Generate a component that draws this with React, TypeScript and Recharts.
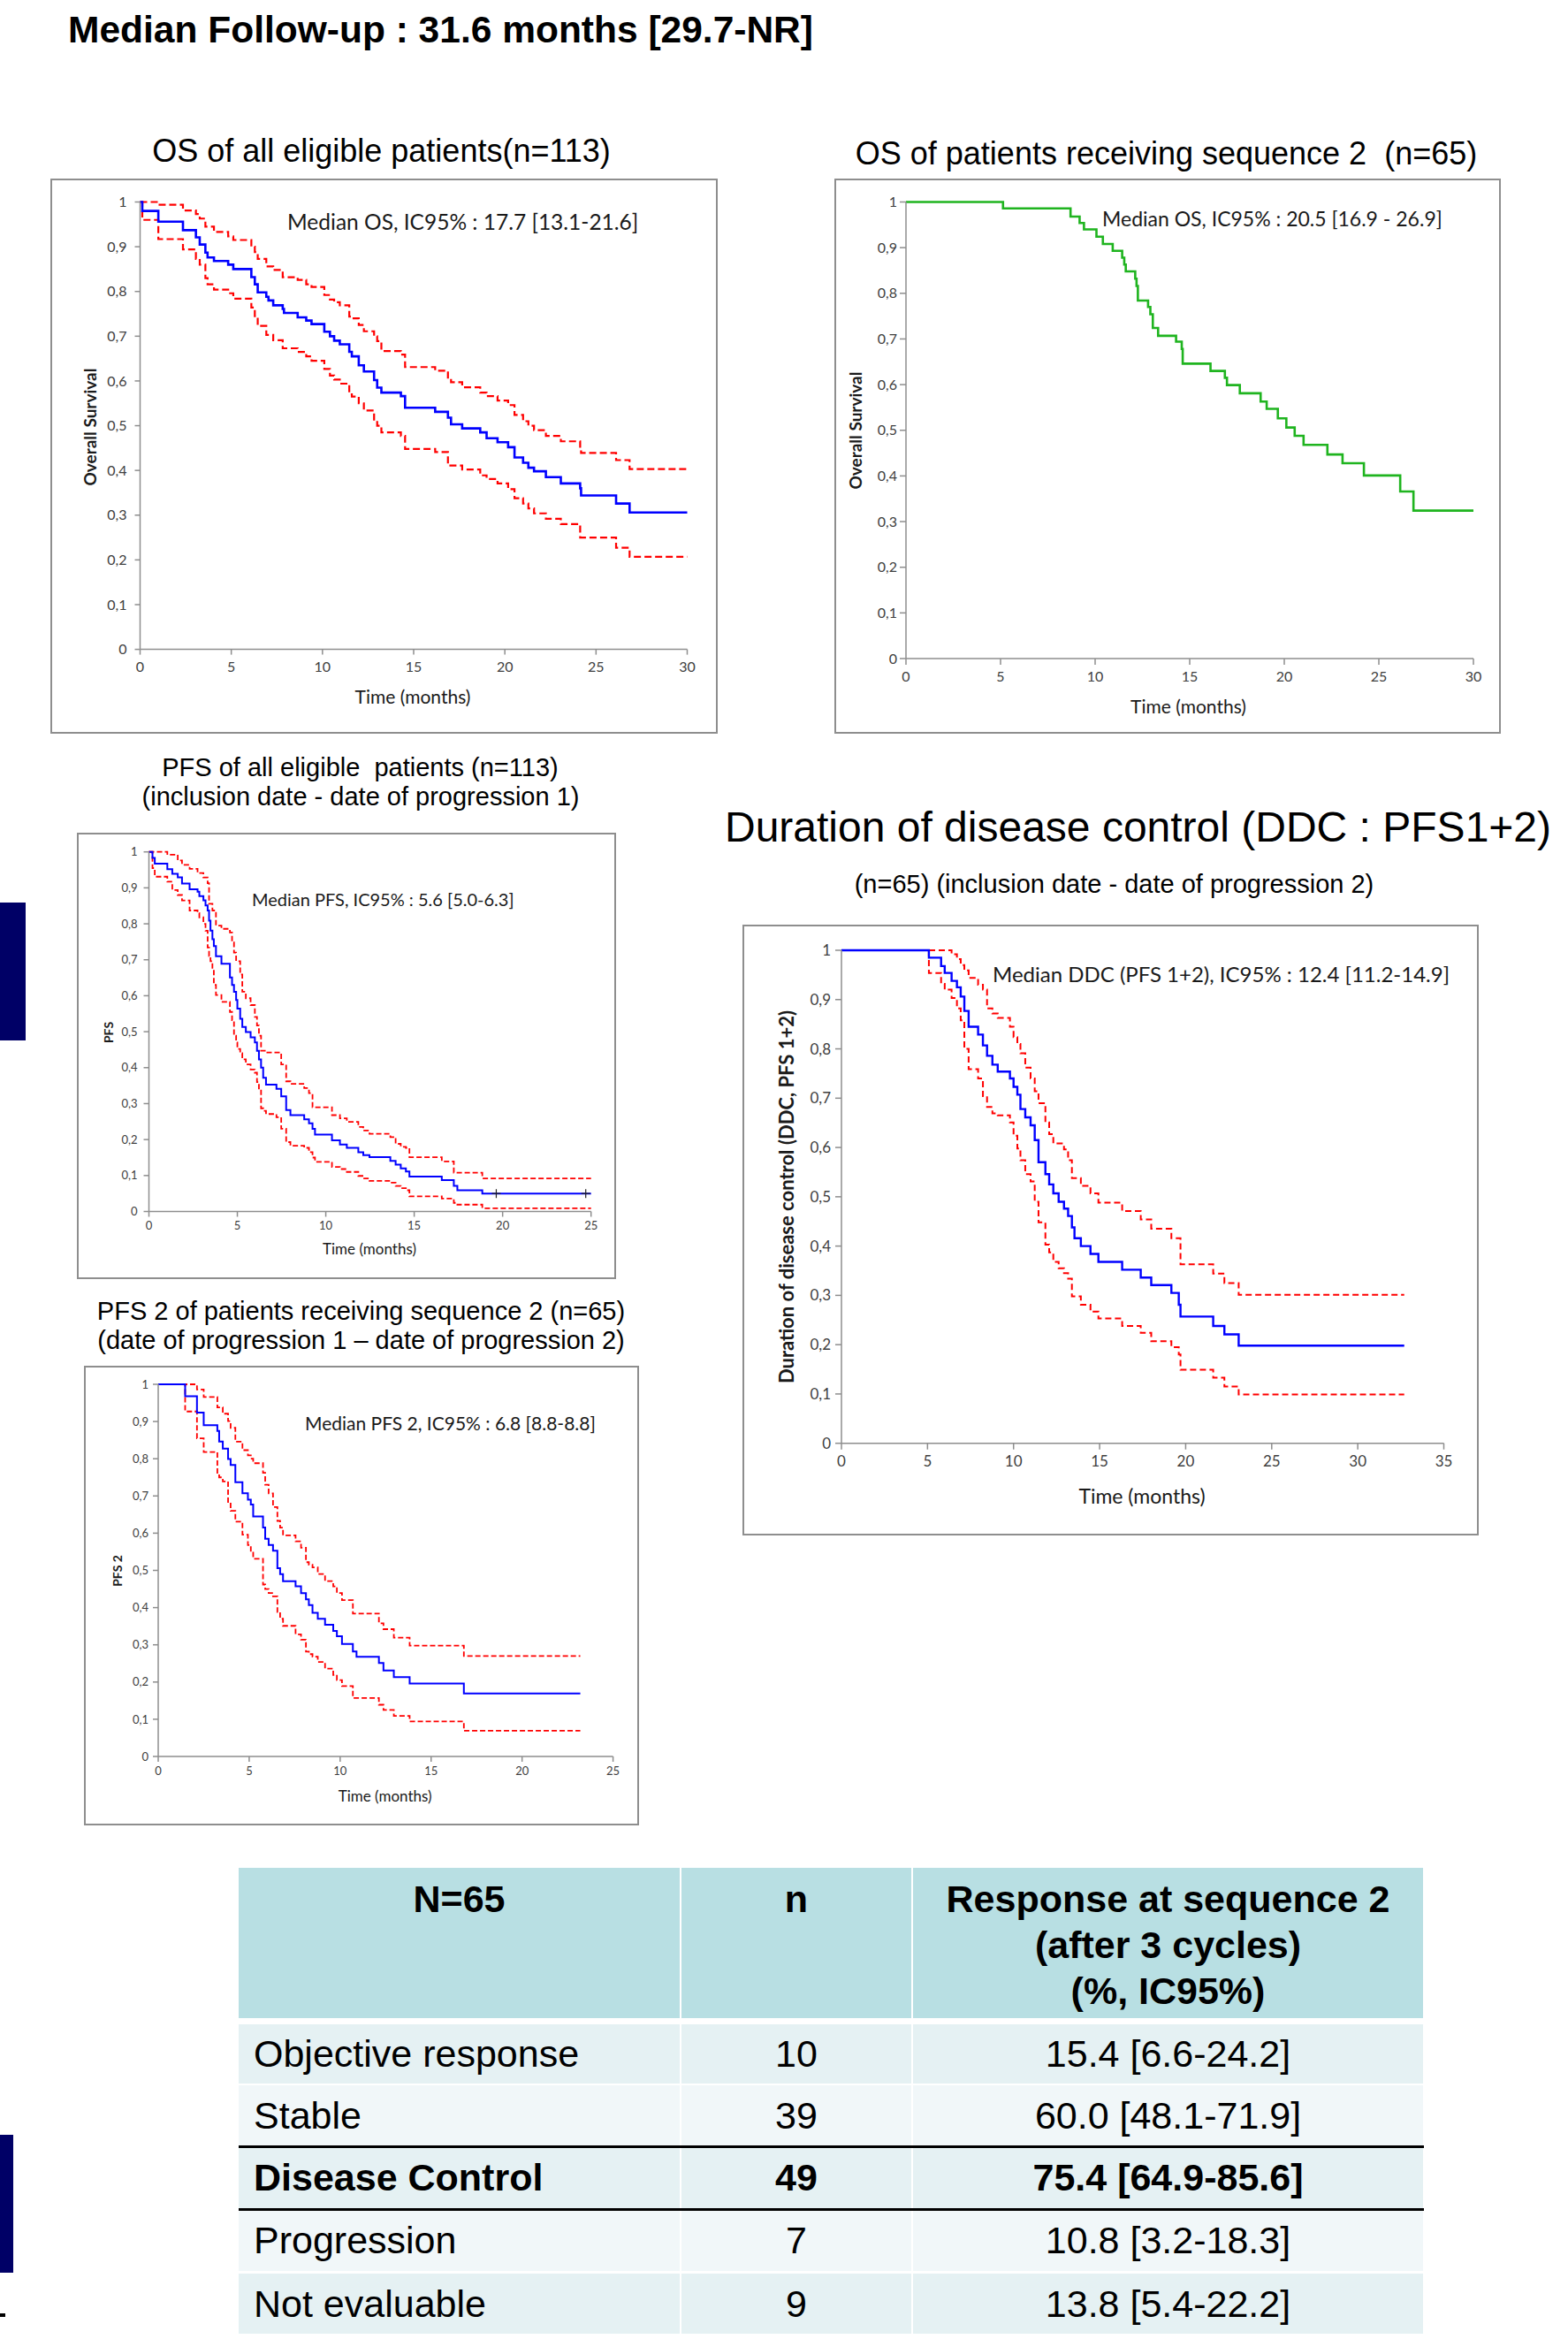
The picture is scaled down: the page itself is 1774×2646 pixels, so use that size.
import { ComposedChart, Line, Scatter, XAxis, YAxis } from 'recharts'

const SANS = '"Liberation Sans", Arial, sans-serif'
const CHART_FONT = 'Lato, "Open Sans", sans-serif'

const survivalTicks = [0, 0.1, 0.2, 0.3, 0.4, 0.5, 0.6, 0.7, 0.8, 0.9, 1]
const monthTicks25 = [0, 5, 10, 15, 20, 25]
const monthTicks30 = [0, 5, 10, 15, 20, 25, 30]
const monthTicks35 = [0, 5, 10, 15, 20, 25, 30, 35]

// OS of all eligible patients (n=113): KM estimate + 95% CI, step starts
const osAllMonths = [0, 0.12, 1.0, 2.35, 3.06, 3.27, 3.58, 3.7, 4.05, 4.83, 5.11, 6.1, 6.29, 6.45, 6.92, 7.04, 7.3, 7.82, 7.89, 8.64, 9.11, 9.4, 10.1, 10.41, 10.64, 10.95, 11.47, 11.61, 11.99, 12.27, 12.83, 13.0, 13.23, 14.3, 14.53, 16.18, 16.88, 17.05, 17.66, 18.65, 19.0, 19.6, 20.18, 20.53, 21.0, 21.29, 21.6, 22.25, 23.07, 24.13, 24.18, 26.1, 26.84, 30]
const osAllEstimate = [1, 0.98, 0.956, 0.937, 0.921, 0.905, 0.887, 0.876, 0.868, 0.86, 0.85, 0.832, 0.816, 0.798, 0.788, 0.78, 0.769, 0.761, 0.752, 0.742, 0.735, 0.727, 0.71, 0.7, 0.69, 0.682, 0.665, 0.655, 0.635, 0.621, 0.602, 0.585, 0.574, 0.566, 0.54, 0.531, 0.518, 0.503, 0.494, 0.485, 0.472, 0.463, 0.452, 0.429, 0.417, 0.406, 0.398, 0.385, 0.371, 0.36, 0.344, 0.326, 0.306, 0.306]
const osAllUpper = [1, 1, 0.994, 0.981, 0.973, 0.963, 0.945, 0.945, 0.933, 0.923, 0.915, 0.9, 0.888, 0.873, 0.856, 0.856, 0.848, 0.832, 0.832, 0.826, 0.816, 0.81, 0.792, 0.782, 0.776, 0.769, 0.744, 0.74, 0.725, 0.711, 0.7, 0.689, 0.667, 0.659, 0.631, 0.623, 0.605, 0.597, 0.586, 0.574, 0.566, 0.556, 0.546, 0.524, 0.51, 0.5, 0.49, 0.477, 0.465, 0.45, 0.439, 0.423, 0.403, 0.403]
const osAllLower = [1, 0.96, 0.917, 0.894, 0.873, 0.86, 0.83, 0.816, 0.804, 0.796, 0.784, 0.764, 0.745, 0.723, 0.703, 0.703, 0.691, 0.673, 0.673, 0.665, 0.655, 0.645, 0.627, 0.612, 0.603, 0.594, 0.57, 0.565, 0.55, 0.534, 0.511, 0.5, 0.485, 0.477, 0.448, 0.441, 0.411, 0.411, 0.402, 0.389, 0.381, 0.371, 0.358, 0.338, 0.326, 0.315, 0.304, 0.292, 0.28, 0.25, 0.25, 0.227, 0.207, 0.207]

// OS of patients receiving sequence 2 (n=65)
const osSeq2Months = [0, 5.13, 8.7, 9.18, 9.41, 10.07, 10.41, 10.93, 11.43, 11.54, 11.62, 12.12, 12.19, 12.26, 12.8, 12.92, 13.05, 13.33, 14.28, 14.58, 14.63, 16.1, 16.86, 16.97, 17.65, 18.75, 19.07, 19.66, 20.11, 20.55, 21.02, 22.28, 23.08, 24.21, 26.13, 26.83, 30]
const osSeq2Estimate = [1, 0.986, 0.968, 0.954, 0.94, 0.924, 0.908, 0.893, 0.878, 0.863, 0.848, 0.832, 0.816, 0.784, 0.77, 0.754, 0.724, 0.707, 0.694, 0.678, 0.646, 0.63, 0.615, 0.599, 0.581, 0.563, 0.547, 0.526, 0.506, 0.488, 0.468, 0.447, 0.428, 0.401, 0.366, 0.324, 0.324]

// PFS of all eligible patients (n=113)
const pfsMonths = [0, 0.2, 0.33, 1.04, 1.32, 1.63, 1.87, 2.3, 2.75, 2.85, 3.08, 3.2, 3.32, 3.4, 3.48, 3.59, 3.67, 3.79, 4.1, 4.58, 4.7, 4.81, 4.93, 5.0, 5.16, 5.28, 5.48, 5.75, 5.99, 6.11, 6.22, 6.34, 6.46, 6.62, 7.21, 7.48, 7.76, 8.0, 8.78, 9.05, 9.25, 9.39, 10.35, 10.8, 11.19, 11.84, 12.12, 12.47, 13.65, 13.95, 14.24, 14.53, 14.73, 16.56, 17.24, 17.44, 18.85, 25]
const pfsEstimate = [1, 0.983, 0.967, 0.952, 0.939, 0.929, 0.912, 0.896, 0.889, 0.877, 0.865, 0.851, 0.837, 0.809, 0.781, 0.757, 0.738, 0.71, 0.689, 0.651, 0.63, 0.611, 0.588, 0.564, 0.536, 0.513, 0.499, 0.484, 0.47, 0.447, 0.423, 0.4, 0.372, 0.353, 0.341, 0.32, 0.282, 0.268, 0.256, 0.245, 0.23, 0.214, 0.198, 0.186, 0.177, 0.165, 0.157, 0.151, 0.141, 0.13, 0.12, 0.111, 0.097, 0.087, 0.071, 0.059, 0.05, 0.05]
const pfsUpper = [1, 1, 1, 0.992, 0.992, 0.976, 0.964, 0.953, 0.941, 0.941, 0.929, 0.929, 0.913, 0.856, 0.856, 0.837, 0.837, 0.795, 0.786, 0.776, 0.748, 0.72, 0.696, 0.696, 0.659, 0.611, 0.593, 0.574, 0.541, 0.517, 0.489, 0.447, 0.447, 0.442, 0.442, 0.409, 0.362, 0.355, 0.343, 0.329, 0.29, 0.29, 0.268, 0.259, 0.249, 0.235, 0.225, 0.216, 0.207, 0.188, 0.18, 0.177, 0.151, 0.139, 0.108, 0.108, 0.092, 0.092]
const pfsLower = [1, 0.955, 0.931, 0.917, 0.894, 0.88, 0.865, 0.837, 0.83, 0.818, 0.8, 0.781, 0.734, 0.71, 0.696, 0.673, 0.63, 0.602, 0.583, 0.555, 0.532, 0.489, 0.47, 0.452, 0.44, 0.423, 0.409, 0.395, 0.386, 0.36, 0.339, 0.287, 0.28, 0.271, 0.262, 0.23, 0.193, 0.183, 0.177, 0.165, 0.15, 0.138, 0.124, 0.118, 0.11, 0.099, 0.092, 0.085, 0.08, 0.071, 0.065, 0.059, 0.042, 0.036, 0.024, 0.019, 0.009, 0.009]
const pfsCensoredMonths = [19.64, 24.7]
const pfsCensoredValues = [0.05, 0.05]

// PFS 2 of patients receiving sequence 2 (n=65)
const pfs2Months = [0, 1.48, 2.13, 2.5, 3.25, 3.35, 3.55, 3.84, 3.98, 4.24, 4.63, 4.93, 5.09, 5.22, 5.76, 5.88, 6.07, 6.31, 6.55, 6.7, 6.86, 7.55, 7.85, 8.12, 8.28, 8.48, 8.77, 9.17, 9.62, 9.82, 10.1, 10.7, 10.9, 12.13, 12.38, 12.95, 13.82, 16.8, 23.2]
const pfs2Estimate = [1, 0.968, 0.924, 0.89, 0.875, 0.846, 0.827, 0.799, 0.783, 0.737, 0.707, 0.69, 0.677, 0.645, 0.615, 0.585, 0.568, 0.553, 0.506, 0.49, 0.471, 0.457, 0.439, 0.422, 0.407, 0.386, 0.37, 0.354, 0.337, 0.323, 0.302, 0.282, 0.268, 0.251, 0.231, 0.213, 0.196, 0.169, 0.169]
const pfs2Upper = [1, 1, 0.986, 0.966, 0.938, 0.938, 0.921, 0.901, 0.883, 0.846, 0.823, 0.809, 0.8, 0.788, 0.762, 0.73, 0.707, 0.67, 0.633, 0.615, 0.594, 0.578, 0.561, 0.522, 0.515, 0.508, 0.49, 0.471, 0.457, 0.439, 0.42, 0.384, 0.384, 0.358, 0.342, 0.319, 0.298, 0.27, 0.27]
const pfs2Lower = [1, 0.927, 0.855, 0.818, 0.758, 0.75, 0.739, 0.684, 0.66, 0.631, 0.596, 0.568, 0.55, 0.531, 0.462, 0.45, 0.439, 0.43, 0.388, 0.37, 0.351, 0.328, 0.314, 0.282, 0.275, 0.268, 0.254, 0.236, 0.219, 0.205, 0.189, 0.157, 0.157, 0.139, 0.125, 0.109, 0.094, 0.069, 0.069]

// Duration of disease control (PFS1+2), n=65
const ddcMonths = [0, 5.08, 5.79, 6.0, 6.4, 6.71, 6.93, 7.14, 7.39, 7.94, 8.22, 8.46, 8.77, 9.08, 9.79, 10.0, 10.22, 10.4, 10.68, 10.99, 11.23, 11.45, 11.85, 12.07, 12.31, 12.62, 12.93, 13.17, 13.39, 13.54, 13.91, 14.47, 14.93, 16.31, 17.39, 18.0, 19.17, 19.6, 19.7, 21.6, 22.25, 23.08, 32.7]
const ddcEstimate = [1, 0.985, 0.968, 0.954, 0.938, 0.925, 0.906, 0.877, 0.845, 0.829, 0.807, 0.786, 0.768, 0.754, 0.74, 0.723, 0.707, 0.678, 0.661, 0.645, 0.615, 0.57, 0.546, 0.525, 0.507, 0.49, 0.476, 0.461, 0.438, 0.416, 0.4, 0.384, 0.368, 0.352, 0.336, 0.321, 0.305, 0.281, 0.257, 0.238, 0.221, 0.198, 0.198]
const ddcUpper = [1, 1, 1, 1, 0.992, 0.982, 0.97, 0.959, 0.944, 0.93, 0.92, 0.882, 0.872, 0.863, 0.845, 0.824, 0.81, 0.791, 0.762, 0.74, 0.714, 0.69, 0.651, 0.627, 0.608, 0.608, 0.596, 0.574, 0.538, 0.538, 0.522, 0.507, 0.488, 0.471, 0.454, 0.435, 0.416, 0.416, 0.363, 0.344, 0.325, 0.301, 0.301]
const ddcLower = [1, 0.954, 0.932, 0.92, 0.903, 0.882, 0.858, 0.8, 0.759, 0.74, 0.704, 0.682, 0.669, 0.665, 0.651, 0.624, 0.598, 0.574, 0.546, 0.531, 0.49, 0.448, 0.403, 0.387, 0.368, 0.355, 0.345, 0.334, 0.298, 0.298, 0.281, 0.267, 0.253, 0.238, 0.224, 0.207, 0.195, 0.18, 0.149, 0.133, 0.115, 0.099, 0.099]

// response table
const tableHeaders = ['N=65', 'n', 'Response at sequence 2\n(after 3 cycles)\n(%, IC95%)']
const outcomeLabels = ['Objective response', 'Stable', 'Disease Control', 'Progression', 'Not evaluable']
const outcomeCounts = [10, 39, 49, 7, 9]
const outcomeRates = ['15.4 [6.6-24.2]', '60.0 [48.1-71.9]', '75.4 [64.9-85.6]', '10.8 [3.2-18.3]', '13.8 [5.4-22.2]']
const boldOutcome = 'Disease Control'

const zipRows = (t: number[], est: number[], upper?: number[], lower?: number[]) =>
  t.map((m, i) => ({ t: m, est: est[i], upper: upper?.[i], lower: lower?.[i] }))

const fmtComma = (v: number) => String(v).replace('.', ',')

type Box = { x: number; y: number; w: number; h: number }
type Plot = { left: number; top: number; right: number; bottom: number }

const CensorMark = (props: any) => {
  const { cx, cy } = props
  if (cx == null || cy == null) return null
  return <path d={`M${cx - 5},${cy}H${cx + 5}M${cx},${cy - 5}V${cy + 5}`} stroke="#222" strokeWidth={1.2} />
}

interface KMPanelProps {
  box: Box
  plot: Plot
  xMax: number
  xTicks: number[]
  rows: { t: number; est: number; upper?: number; lower?: number }[]
  ci?: boolean
  estColor?: string
  tickFont: number
  tickSize?: number
  yTickMargin: number
  xTickMargin: number
  estWidth: number
  ciWidth: number
  dash: string
  censored?: { t: number; est: number }[]
}

function KMPanel({
  box, plot, xMax, xTicks, rows, ci = true, estColor = '#0000ff', tickFont,
  tickSize = 6, yTickMargin, xTickMargin, estWidth, ciWidth, dash, censored,
}: KMPanelProps) {
  const margin = { top: plot.top - box.y, right: box.x + box.w - plot.right, bottom: 0, left: 0 }
  const tickStyle = { fontSize: tickFont, fill: '#404040', fontFamily: CHART_FONT }
  return (
    <>
      <div
        style={{
          position: 'absolute', left: box.x, top: box.y, width: box.w, height: box.h,
          border: '2px solid #8e8e8e', boxSizing: 'border-box', background: '#fff',
        }}
      />
      <div style={{ position: 'absolute', left: box.x, top: box.y }}>
        <ComposedChart width={box.w} height={box.h} data={rows} margin={margin}>
          <XAxis
            type="number" dataKey="t" domain={[0, xMax]} ticks={xTicks} interval={0}
            height={box.y + box.h - plot.bottom} stroke="#8e8e8e" strokeWidth={1.5}
            tickSize={tickSize} tickMargin={xTickMargin} tick={tickStyle}
          />
          <YAxis
            type="number" dataKey="est" domain={[0, 1]} ticks={survivalTicks} interval={0}
            width={plot.left - box.x} stroke="#8e8e8e" strokeWidth={1.5}
            tickSize={tickSize} tickMargin={yTickMargin} tick={tickStyle} tickFormatter={fmtComma}
          />
          {ci && (
            <Line dataKey="upper" type="stepAfter" stroke="#ff0000" strokeWidth={ciWidth}
              strokeDasharray={dash} dot={false} activeDot={false} isAnimationActive={false} />
          )}
          {ci && (
            <Line dataKey="lower" type="stepAfter" stroke="#ff0000" strokeWidth={ciWidth}
              strokeDasharray={dash} dot={false} activeDot={false} isAnimationActive={false} />
          )}
          <Line dataKey="est" type="stepAfter" stroke={estColor} strokeWidth={estWidth}
            dot={false} activeDot={false} isAnimationActive={false} />
          {censored && <Scatter data={censored} shape={CensorMark} isAnimationActive={false} />}
        </ComposedChart>
      </div>
    </>
  )
}

function ResponseTable() {
  const cols = [270, 770, 1032, 1611]
  const rowTops = [2290, 2359, 2428, 2499, 2572]
  const rowBottoms = [2357, 2428, 2499, 2569, 2640]
  const fills = ['#e5f1f3', '#f1f7f9', '#e5f1f3', '#f1f7f9', '#e5f1f3']
  const cell = (i: number) => ({
    position: 'absolute' as const,
    left: cols[i] + (i === 0 ? 0 : 1),
    width: cols[i + 1] - cols[i] - (i === 0 ? 1 : 2),
  })
  return (
    <div style={{ fontFamily: SANS, color: '#000' }}>
      {tableHeaders.map((h, i) => (
        <div
          key={h}
          style={{
            ...cell(i), top: 2113, height: 170, background: '#b8dfe3', boxSizing: 'border-box',
            paddingTop: 9, textAlign: 'center', fontWeight: 700, fontSize: 43, lineHeight: '52px',
            whiteSpace: 'pre',
          }}
        >
          {h}
        </div>
      ))}
      {outcomeLabels.map((label, r) => {
        const bold = label === boldOutcome
        const base = {
          top: rowTops[r], height: rowBottoms[r] - rowTops[r], background: fills[r],
          display: 'flex', alignItems: 'center', fontSize: 43, lineHeight: 1,
          fontWeight: bold ? 700 : 400, boxSizing: 'border-box' as const,
        }
        return (
          <div key={label}>
            <div style={{ ...cell(0), ...base, paddingLeft: 17 }}>{label}</div>
            <div style={{ ...cell(1), ...base, justifyContent: 'center' }}>{outcomeCounts[r]}</div>
            <div style={{ ...cell(2), ...base, justifyContent: 'center' }}>{outcomeRates[r]}</div>
          </div>
        )
      })}
      <div style={{ position: 'absolute', left: 270, width: 1341, top: 2427, height: 3, background: '#000' }} />
      <div style={{ position: 'absolute', left: 270, width: 1341, top: 2498, height: 3, background: '#000' }} />
    </div>
  )
}

export default function App() {
  const timeLabel = 'Time (months)'
  return (
    <div
      style={{
        position: 'absolute', left: 0, top: 0, width: 1774, height: 2646,
        background: '#fff', overflow: 'hidden', fontFamily: SANS,
      }}
    >
      {/* slide edge markers */}
      <div style={{ position: 'absolute', left: 0, top: 1021, width: 29, height: 156, background: '#000066' }} />
      <div style={{ position: 'absolute', left: 0, top: 2415, width: 15, height: 156, background: '#000066' }} />
      <div style={{ position: 'absolute', left: 0, top: 2617, width: 6, height: 4, background: '#000' }} />

      <KMPanel
        box={{ x: 57, y: 202, w: 755, h: 628 }}
        plot={{ left: 158.5, top: 228.5, right: 777.5, bottom: 734.6 }}
        xMax={30} xTicks={monthTicks30}
        rows={zipRows(osAllMonths, osAllEstimate, osAllUpper, osAllLower)}
        tickFont={16} yTickMargin={9} xTickMargin={8}
        estWidth={2.6} ciWidth={2.2} dash="8 4"
      />
      <KMPanel
        box={{ x: 944, y: 202, w: 754, h: 628 }}
        plot={{ left: 1025, top: 228.5, right: 1667, bottom: 745 }}
        xMax={30} xTicks={monthTicks30}
        rows={zipRows(osSeq2Months, osSeq2Estimate)}
        ci={false} estColor="#1fb41f"
        tickFont={16} tickSize={7} yTickMargin={3} xTickMargin={8}
        estWidth={2.6} ciWidth={2} dash="8 4"
      />
      <KMPanel
        box={{ x: 87, y: 942, w: 610, h: 505 }}
        plot={{ left: 168.5, top: 963.7, right: 668.7, bottom: 1370.5 }}
        xMax={25} xTicks={monthTicks25}
        rows={zipRows(pfsMonths, pfsEstimate, pfsUpper, pfsLower)}
        censored={pfsCensoredMonths.map((t, i) => ({ t, est: pfsCensoredValues[i] }))}
        tickFont={13} yTickMargin={7} xTickMargin={5}
        estWidth={2} ciWidth={1.8} dash="6 3"
      />
      <KMPanel
        box={{ x: 95, y: 1545, w: 628, h: 520 }}
        plot={{ left: 179, top: 1566, right: 693.6, bottom: 1987 }}
        xMax={25} xTicks={monthTicks25}
        rows={zipRows(pfs2Months, pfs2Estimate, pfs2Upper, pfs2Lower)}
        tickFont={13} yTickMargin={5} xTickMargin={6}
        estWidth={2} ciWidth={1.8} dash="6 3"
      />
      <KMPanel
        box={{ x: 840, y: 1046, w: 833, h: 691 }}
        plot={{ left: 952, top: 1075, right: 1633.5, bottom: 1632.7 }}
        xMax={35} xTicks={monthTicks35}
        rows={zipRows(ddcMonths, ddcEstimate, ddcUpper, ddcLower)}
        tickFont={17} tickSize={7} yTickMargin={5} xTickMargin={7}
        estWidth={2.4} ciWidth={2} dash="7 4"
      />

      <ResponseTable />

      <svg
        width={1774} height={2646}
        style={{ position: 'absolute', left: 0, top: 0, pointerEvents: 'none' }}
      >
        <g fontFamily={SANS} fill="#000">
          <text x={77} y={48} fontSize={42.5} fontWeight={700}>Median Follow-up : 31.6 months [29.7-NR]</text>
          <text x={431.5} y={183} fontSize={36} textAnchor="middle">OS of all eligible patients(n=113)</text>
          <text x={1319.5} y={186} fontSize={36} textAnchor="middle" style={{ whiteSpace: 'pre' }}>
            OS of patients receiving sequence 2  (n=65)
          </text>
          <text x={407.5} y={877.5} fontSize={29} textAnchor="middle" style={{ whiteSpace: 'pre' }}>
            PFS of all eligible  patients (n=113)
          </text>
          <text x={408} y={911} fontSize={29} textAnchor="middle">(inclusion date - date of progression 1)</text>
          <text x={408.5} y={1493} fontSize={29} textAnchor="middle">PFS 2 of patients receiving sequence 2 (n=65)</text>
          <text x={408.5} y={1526} fontSize={29} textAnchor="middle">(date of progression 1 – date of progression 2)</text>
          <text x={1287.5} y={952} fontSize={48} textAnchor="middle">Duration of disease control (DDC : PFS1+2)</text>
          <text x={1260.5} y={1010} fontSize={29} textAnchor="middle">(n=65) (inclusion date - date of progression 2)</text>
        </g>
        <g fontFamily={CHART_FONT} fill="#1a1a1a">
          <text x={325} y={260} fontSize={24.5}>Median OS, IC95% : 17.7 [13.1-21.6]</text>
          <text x={1247} y={256} fontSize={23}>Median OS, IC95% : 20.5 [16.9 - 26.9]</text>
          <text x={285} y={1025} fontSize={20}>Median PFS, IC95% : 5.6 [5.0-6.3]</text>
          <text x={345} y={1617.6} fontSize={21}>Median PFS 2, IC95% : 6.8 [8.8-8.8]</text>
          <text x={1123} y={1110.5} fontSize={24}>Median DDC (PFS 1+2), IC95% : 12.4 [11.2-14.9]</text>

          <text x={467} y={787} fontSize={21} textAnchor="middle" dominantBaseline="central">{timeLabel}</text>
          <text x={1344.5} y={798} fontSize={21} textAnchor="middle" dominantBaseline="central">{timeLabel}</text>
          <text x={418} y={1412.6} fontSize={17} textAnchor="middle" dominantBaseline="central">{timeLabel}</text>
          <text x={435.6} y={2031} fontSize={17} textAnchor="middle" dominantBaseline="central">{timeLabel}</text>
          <text x={1292} y={1691.6} fontSize={23} textAnchor="middle" dominantBaseline="central">{timeLabel}</text>

          <g fontWeight={700} textAnchor="middle" dominantBaseline="central">
            <text transform="translate(101,483) rotate(-90)" fontSize={19}>Overall Survival</text>
            <text transform="translate(967,487) rotate(-90)" fontSize={19}>Overall Survival</text>
            <text transform="translate(122,1168) rotate(-90)" fontSize={14}>PFS</text>
            <text transform="translate(132,1777) rotate(-90)" fontSize={14}>PFS 2</text>
            <text transform="translate(889,1354) rotate(-90)" fontSize={22}>Duration of disease control (DDC, PFS 1+2)</text>
          </g>
        </g>
      </svg>
    </div>
  )
}
